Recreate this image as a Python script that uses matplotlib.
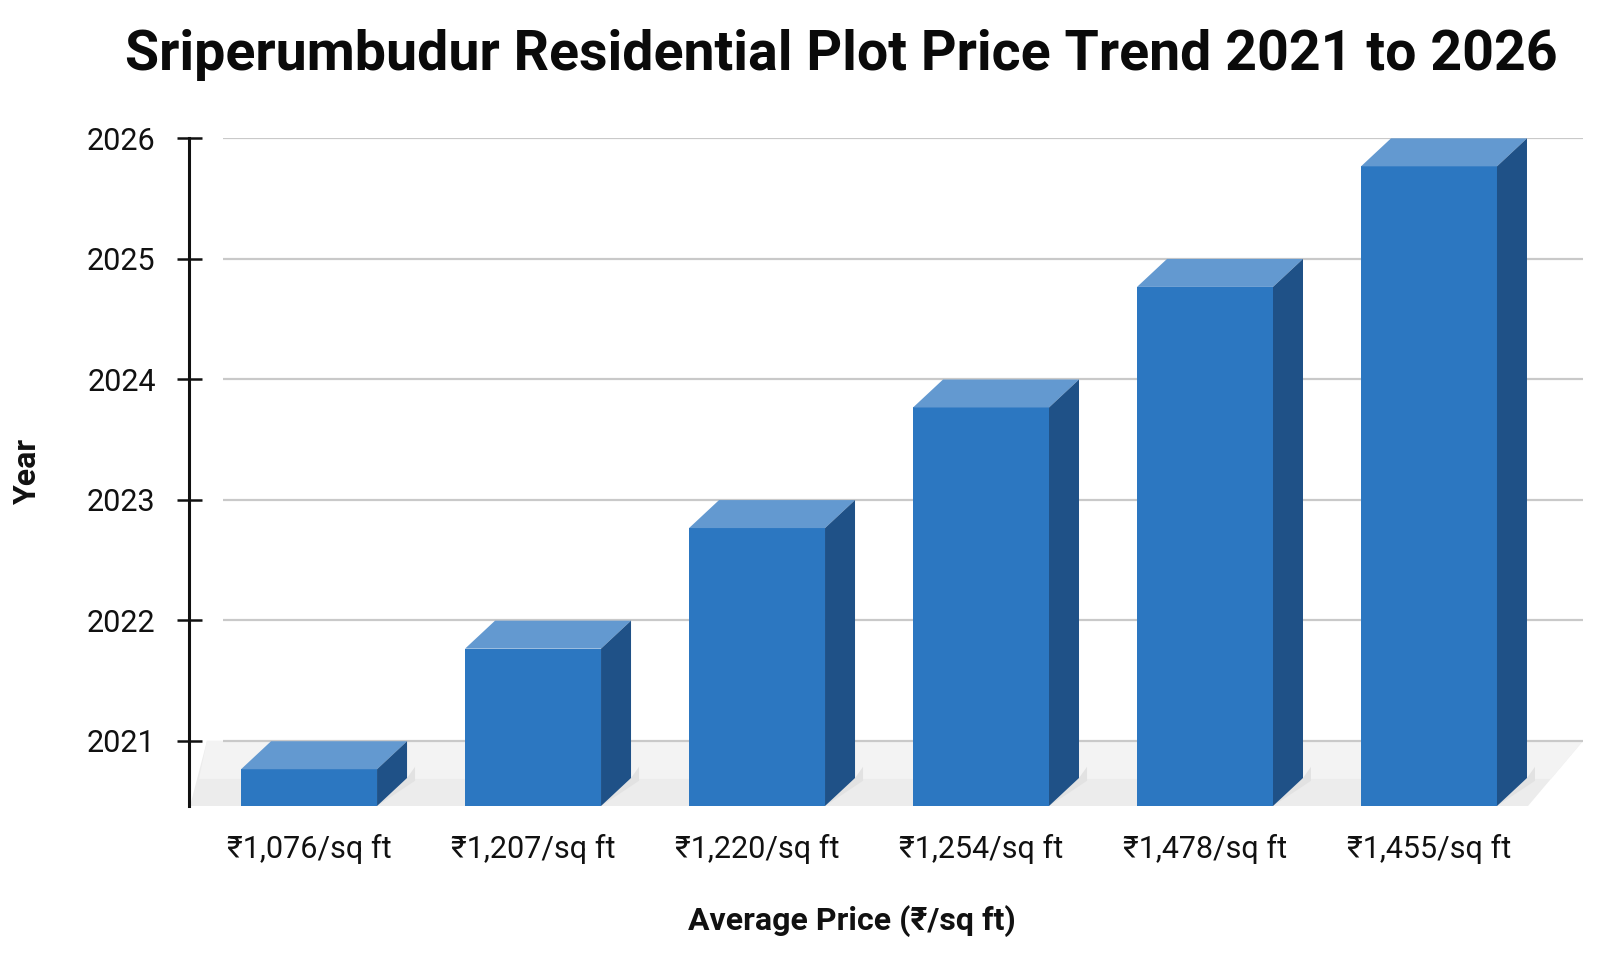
import matplotlib
matplotlib.use("Agg")
import matplotlib.pyplot as plt
from matplotlib.patches import Polygon

# ---- data ----
price_labels = ["₹1,076/sq ft", "₹1,207/sq ft", "₹1,220/sq ft",
                "₹1,254/sq ft", "₹1,478/sq ft", "₹1,455/sq ft"]
years = [2021, 2022, 2023, 2024, 2025, 2026]
year_ticks = [2021, 2022, 2023, 2024, 2025, 2026]
title = "Sriperumbudur Residential Plot Price Trend 2021 to 2026"
xlabel = "Average Price (₹/sq ft)"
ylabel = "Year"

FONT = ["Roboto", "Noto Sans", "DejaVu Sans"]
plt.rcParams["font.family"] = FONT

W, H = 1614, 975
fig = plt.figure(figsize=(W / 100, H / 100), dpi=100)
fig.patch.set_facecolor("white")

# axes placement in pixels
L, R, T, B = 189, 1583, 138, 806
ax = fig.add_axes([L / W, 1 - B / H, (R - L) / W, (B - T) / H])
ax.set_facecolor("white")

x0, x1 = -0.536, 5.6875
ymin, ymax = 2020.46, 2026.0
ax.set_xlim(x0, x1)
ax.set_ylim(ymin, ymax)

px_x = (x1 - x0) / (R - L)
px_y = (ymax - ymin) / (B - T)

# floor
floor = Polygon([(x0 + 1 * px_x, ymin), (x0 + 18 * px_x, 2021), (x1, 2021),
                 (x1 - 55 * px_x, ymin)], closed=True,
                facecolor="#ececec", edgecolor="none", zorder=0.5, clip_on=False)
ax.add_patch(floor)
floor2 = Polygon([(x0 + 10 * px_x, 2021 - 38 * px_y), (x0 + 18 * px_x, 2021), (x1, 2021),
                  (x1 - 32 * px_x, 2021 - 38 * px_y)], closed=True,
                 facecolor="#f3f3f3", edgecolor="none", zorder=0.6, clip_on=False)
ax.add_patch(floor2)

# gridlines
ax.hlines(year_ticks, x0 + 34 * px_x, x1, colors="#c9c9c9", linewidth=1.6, zorder=1)

# 3D bars
bw = 0.607
dx = 30 * px_x
dy = 28 * px_y
front_c, top_c, side_c = "#2C77C1", "#6399D0", "#1F5187"
for i, v in enumerate(years):
    xl, xr = i - bw / 2, i + bw / 2
    ft = v - 0.235
    # shadow
    ax.add_patch(Polygon([(xr, ymin), (xr + dx + 8 * px_x, ymin + dy * 0.9),
                          (xr + dx + 8 * px_x, ymin + dy * 1.4), (xr + dx, ymin + dy)],
                         closed=True, facecolor="#e2e2e2", edgecolor="none",
                         zorder=1.5, clip_on=False))
    ax.bar(i, ft - ymin, bottom=ymin, width=bw, color=front_c, zorder=3,
           linewidth=0, clip_on=False)
    ax.add_patch(Polygon([(xl, ft), (xr, ft), (xr + dx, ft + dy), (xl + dx, ft + dy)],
                         closed=True, facecolor=top_c, edgecolor="none", zorder=3,
                         clip_on=False))
    ax.add_patch(Polygon([(xr, ymin), (xr + dx, ymin + dy), (xr + dx, ft + dy), (xr, ft)],
                         closed=True, facecolor=side_c, edgecolor="none", zorder=3,
                         clip_on=False))

# spines & ticks
for s in ["top", "right", "bottom"]:
    ax.spines[s].set_visible(False)
ax.spines["left"].set_linewidth(2.2)
ax.spines["left"].set_color("#111111")
ax.spines["left"].set_bounds(ymin, ymax)

ax.set_yticks(year_ticks)
ax.set_yticklabels([str(y) for y in year_ticks])
ax.tick_params(axis="y", direction="inout", length=18, width=1.8, color="#111111",
               labelsize=22, pad=15, labelcolor="#111111")
ax.set_xticks(range(len(price_labels)))
ax.set_xticklabels(price_labels)
ax.tick_params(axis="x", length=0, labelsize=22, pad=20, labelcolor="#111111")

fig.text(27 / W, 1 - 471 / H, ylabel, rotation=90, ha="center", va="center",
         fontsize=23, fontweight="bold", color="#111111")
fig.text(852 / W, 1 - 921 / H, xlabel, ha="center", va="center",
         fontsize=23, fontweight="bold", color="#111111")
fig.text(841 / W, 1 - 55 / H, title, ha="center", va="center",
         fontsize=40, fontweight="bold", color="#0a0a0a")

fig.savefig("out.png", dpi=100, facecolor="white")
